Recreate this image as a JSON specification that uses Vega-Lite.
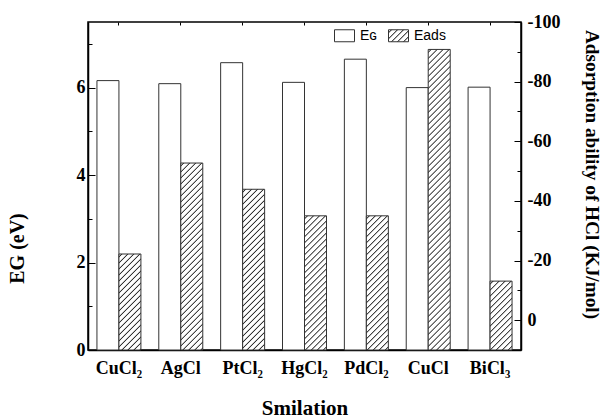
{
  "$schema": "https://vega.github.io/schema/vega-lite/v6.json",
  "width": 433,
  "height": 328,
  "autosize": {"type": "none"},
  "padding": {"left": 88, "top": 22, "right": 88, "bottom": 69},
  "background": "#ffffff",
  "params": [
    {
      "name": "hatch",
      "value": [
        {"offset":0,"color":"#fff"},
        {"offset":0.0045,"color":"#fff"},{"offset":0.0075,"color":"#222"},{"offset":0.0105,"color":"#fff"},
        {"offset":0.0195,"color":"#fff"},{"offset":0.0225,"color":"#222"},{"offset":0.0255,"color":"#fff"},
        {"offset":0.0345,"color":"#fff"},{"offset":0.0375,"color":"#222"},{"offset":0.0405,"color":"#fff"},
        {"offset":0.0495,"color":"#fff"},{"offset":0.0525,"color":"#222"},{"offset":0.0555,"color":"#fff"},
        {"offset":0.0645,"color":"#fff"},{"offset":0.0675,"color":"#222"},{"offset":0.0705,"color":"#fff"},
        {"offset":0.0795,"color":"#fff"},{"offset":0.0825,"color":"#222"},{"offset":0.0855,"color":"#fff"},
        {"offset":0.0945,"color":"#fff"},{"offset":0.0975,"color":"#222"},{"offset":0.1005,"color":"#fff"},
        {"offset":0.1095,"color":"#fff"},{"offset":0.1125,"color":"#222"},{"offset":0.1155,"color":"#fff"},
        {"offset":0.1245,"color":"#fff"},{"offset":0.1275,"color":"#222"},{"offset":0.1305,"color":"#fff"},
        {"offset":0.1395,"color":"#fff"},{"offset":0.1425,"color":"#222"},{"offset":0.1455,"color":"#fff"},
        {"offset":0.1545,"color":"#fff"},{"offset":0.1575,"color":"#222"},{"offset":0.1605,"color":"#fff"},
        {"offset":0.1695,"color":"#fff"},{"offset":0.1725,"color":"#222"},{"offset":0.1755,"color":"#fff"},
        {"offset":0.1845,"color":"#fff"},{"offset":0.1875,"color":"#222"},{"offset":0.1905,"color":"#fff"},
        {"offset":0.1995,"color":"#fff"},{"offset":0.2025,"color":"#222"},{"offset":0.2055,"color":"#fff"},
        {"offset":0.2145,"color":"#fff"},{"offset":0.2175,"color":"#222"},{"offset":0.2205,"color":"#fff"},
        {"offset":0.2295,"color":"#fff"},{"offset":0.2325,"color":"#222"},{"offset":0.2355,"color":"#fff"},
        {"offset":0.2445,"color":"#fff"},{"offset":0.2475,"color":"#222"},{"offset":0.2505,"color":"#fff"},
        {"offset":0.2595,"color":"#fff"},{"offset":0.2625,"color":"#222"},{"offset":0.2655,"color":"#fff"},
        {"offset":0.2745,"color":"#fff"},{"offset":0.2775,"color":"#222"},{"offset":0.2805,"color":"#fff"},
        {"offset":0.2895,"color":"#fff"},{"offset":0.2925,"color":"#222"},{"offset":0.2955,"color":"#fff"},
        {"offset":0.3045,"color":"#fff"},{"offset":0.3075,"color":"#222"},{"offset":0.3105,"color":"#fff"},
        {"offset":0.3195,"color":"#fff"},{"offset":0.3225,"color":"#222"},{"offset":0.3255,"color":"#fff"},
        {"offset":0.3345,"color":"#fff"},{"offset":0.3375,"color":"#222"},{"offset":0.3405,"color":"#fff"},
        {"offset":0.3495,"color":"#fff"},{"offset":0.3525,"color":"#222"},{"offset":0.3555,"color":"#fff"},
        {"offset":0.3645,"color":"#fff"},{"offset":0.3675,"color":"#222"},{"offset":0.3705,"color":"#fff"},
        {"offset":0.3795,"color":"#fff"},{"offset":0.3825,"color":"#222"},{"offset":0.3855,"color":"#fff"},
        {"offset":0.3945,"color":"#fff"},{"offset":0.3975,"color":"#222"},{"offset":0.4005,"color":"#fff"},
        {"offset":0.4095,"color":"#fff"},{"offset":0.4125,"color":"#222"},{"offset":0.4155,"color":"#fff"},
        {"offset":0.4245,"color":"#fff"},{"offset":0.4275,"color":"#222"},{"offset":0.4305,"color":"#fff"},
        {"offset":0.4395,"color":"#fff"},{"offset":0.4425,"color":"#222"},{"offset":0.4455,"color":"#fff"},
        {"offset":0.4545,"color":"#fff"},{"offset":0.4575,"color":"#222"},{"offset":0.4605,"color":"#fff"},
        {"offset":0.4695,"color":"#fff"},{"offset":0.4725,"color":"#222"},{"offset":0.4755,"color":"#fff"},
        {"offset":0.4845,"color":"#fff"},{"offset":0.4875,"color":"#222"},{"offset":0.4905,"color":"#fff"},
        {"offset":0.4995,"color":"#fff"},{"offset":0.5025,"color":"#222"},{"offset":0.5055,"color":"#fff"},
        {"offset":0.5145,"color":"#fff"},{"offset":0.5175,"color":"#222"},{"offset":0.5205,"color":"#fff"},
        {"offset":0.5295,"color":"#fff"},{"offset":0.5325,"color":"#222"},{"offset":0.5355,"color":"#fff"},
        {"offset":0.5445,"color":"#fff"},{"offset":0.5475,"color":"#222"},{"offset":0.5505,"color":"#fff"},
        {"offset":0.5595,"color":"#fff"},{"offset":0.5625,"color":"#222"},{"offset":0.5655,"color":"#fff"},
        {"offset":0.5745,"color":"#fff"},{"offset":0.5775,"color":"#222"},{"offset":0.5805,"color":"#fff"},
        {"offset":0.5895,"color":"#fff"},{"offset":0.5925,"color":"#222"},{"offset":0.5955,"color":"#fff"},
        {"offset":0.6045,"color":"#fff"},{"offset":0.6075,"color":"#222"},{"offset":0.6105,"color":"#fff"},
        {"offset":0.6195,"color":"#fff"},{"offset":0.6225,"color":"#222"},{"offset":0.6255,"color":"#fff"},
        {"offset":0.6345,"color":"#fff"},{"offset":0.6375,"color":"#222"},{"offset":0.6405,"color":"#fff"},
        {"offset":0.6495,"color":"#fff"},{"offset":0.6525,"color":"#222"},{"offset":0.6555,"color":"#fff"},
        {"offset":0.6645,"color":"#fff"},{"offset":0.6675,"color":"#222"},{"offset":0.6705,"color":"#fff"},
        {"offset":0.6795,"color":"#fff"},{"offset":0.6825,"color":"#222"},{"offset":0.6855,"color":"#fff"},
        {"offset":0.6945,"color":"#fff"},{"offset":0.6975,"color":"#222"},{"offset":0.7005,"color":"#fff"},
        {"offset":0.7095,"color":"#fff"},{"offset":0.7125,"color":"#222"},{"offset":0.7155,"color":"#fff"},
        {"offset":0.7245,"color":"#fff"},{"offset":0.7275,"color":"#222"},{"offset":0.7305,"color":"#fff"},
        {"offset":0.7395,"color":"#fff"},{"offset":0.7425,"color":"#222"},{"offset":0.7455,"color":"#fff"},
        {"offset":0.7545,"color":"#fff"},{"offset":0.7575,"color":"#222"},{"offset":0.7605,"color":"#fff"},
        {"offset":0.7695,"color":"#fff"},{"offset":0.7725,"color":"#222"},{"offset":0.7755,"color":"#fff"},
        {"offset":0.7845,"color":"#fff"},{"offset":0.7875,"color":"#222"},{"offset":0.7905,"color":"#fff"},
        {"offset":0.7995,"color":"#fff"},{"offset":0.8025,"color":"#222"},{"offset":0.8055,"color":"#fff"},
        {"offset":0.8145,"color":"#fff"},{"offset":0.8175,"color":"#222"},{"offset":0.8205,"color":"#fff"}
      ]
    }
  ],
  "data": {
    "values": [
      {"compound": "CuCl₂", "series": "EG", "value": 6.16},
      {"compound": "AgCl", "series": "EG", "value": 6.09},
      {"compound": "PtCl₂", "series": "EG", "value": 6.57},
      {"compound": "HgCl₂", "series": "EG", "value": 6.12},
      {"compound": "PdCl₂", "series": "EG", "value": 6.65},
      {"compound": "CuCl", "series": "EG", "value": 6.0},
      {"compound": "BiCl₃", "series": "EG", "value": 6.01},
      {"compound": "CuCl₂", "series": "Eads", "value": -22.2},
      {"compound": "AgCl", "series": "Eads", "value": -52.7},
      {"compound": "PtCl₂", "series": "Eads", "value": -43.9},
      {"compound": "HgCl₂", "series": "Eads", "value": -35.0},
      {"compound": "PdCl₂", "series": "Eads", "value": -35.0},
      {"compound": "CuCl", "series": "Eads", "value": -90.8},
      {"compound": "BiCl₃", "series": "Eads", "value": -13.1}
    ]
  },
  "encoding": {
    "xOffset": {
      "field": "series",
      "type": "nominal",
      "scale": {"domain": ["EG", "Eads"], "paddingInner": 0, "paddingOuter": 0}
    }
  },
  "layer": [
    {
      "transform": [{"filter": "datum.series === 'EG'"}],
      "mark": {"type": "bar", "stroke": "#333333", "strokeWidth": 1},
      "encoding": {
        "x": {
          "field": "compound",
          "type": "nominal",
          "sort": null,
          "scale": {"paddingInner": 0.289, "paddingOuter": 0.1445},
          "axis": {
            "orient": "bottom",
            "ticks": false,
            "labelAngle": 0,
            "labelPadding": 9,
            "labelFont": "Liberation Serif",
            "labelFontSize": 18,
            "labelFontWeight": "bold",
            "labelColor": "#000000",
            "domainColor": "#000000",
            "domainWidth": 1.5,
            "title": "Smilation",
            "titleFont": "Liberation Serif",
            "titleFontSize": 21,
            "titleFontWeight": "bold",
            "titleColor": "#000000",
            "titlePadding": 20
          }
        },
        "y": {
          "field": "value",
          "type": "quantitative",
          "stack": null,
          "scale": {"domain": [0, 7.5], "nice": false, "zero": false},
          "axis": {
            "orient": "left",
            "values": [0, 1, 2, 3, 4, 5, 6, 7],
            "labelExpr": "datum.value % 2 === 0 ? datum.label : ''",
            "labelOverlap": false,
            "grid": false,
            "tickSize": {"expr": "datum.value % 2 === 0 ? -7 : -4"},
            "tickColor": "#000000",
            "tickWidth": 1,
            "labelPadding": 10,
            "labelFont": "Liberation Serif",
            "labelFontSize": 18,
            "labelFontWeight": "bold",
            "labelColor": "#000000",
            "domainColor": "#000000",
            "domainWidth": 1.5,
            "title": "EG (eV)",
            "titleFont": "Liberation Serif",
            "titleFontSize": 20,
            "titleFontWeight": "bold",
            "titleColor": "#000000",
            "titlePadding": 49,
            "titleY": 226
          }
        },
        "fill": {
          "field": "series",
          "type": "nominal",
          "scale": {
            "domain": ["EG", "Eads"],
            "range": ["#ffffff", {"expr": "{gradient: 'linear', x1: 0, y1: 0, x2: 14.706, y2: 8.824, stops: hatch}"}]
          },
          "legend": {
            "orient": "none",
            "legendX": 246,
            "legendY": 3,
            "direction": "horizontal",
            "title": null,
            "symbolType": "M-1,-0.6H1V0.6H-1Z",
            "symbolSize": 400,
            "symbolOpacity": 1,
            "symbolStrokeColor": "#333333",
            "symbolStrokeWidth": 1,
            "labelFont": "Liberation Sans",
            "labelFontSize": 14,
            "labelFontWeight": "normal",
            "labelColor": "#000000",
            "labelOffset": 5,
            "columnPadding": 8,
            "labelExpr": "datum.value === 'EG' ? 'Eɢ' : datum.label"
          }
        }
      }
    },
    {
      "transform": [{"filter": "datum.series === 'Eads'"}],
      "mark": {"type": "bar", "stroke": "#333333", "strokeWidth": 1},
      "encoding": {
        "x": {
          "field": "compound",
          "type": "nominal",
          "sort": null,
          "scale": {"paddingInner": 0.289, "paddingOuter": 0.1445},
          "axis": {
            "orient": "top",
            "labels": false,
            "domain": false,
            "title": null,
            "tickSize": -3,
            "tickColor": "#000000",
            "tickWidth": 1
          }
        },
        "y": {
          "field": "value",
          "type": "quantitative",
          "scale": {"domain": [10, -100], "nice": false, "zero": false},
          "axis": {
            "orient": "right",
            "values": [-100, -90, -80, -70, -60, -50, -40, -30, -20, -10, 0],
            "labelExpr": "datum.value % 20 === 0 ? '' + datum.value : ''",
            "labelOverlap": false,
            "grid": false,
            "tickSize": {"expr": "datum.value % 20 === 0 ? -7 : -4"},
            "tickColor": "#000000",
            "tickWidth": 1,
            "labelPadding": 13,
            "labelFont": "Liberation Serif",
            "labelFontSize": 18,
            "labelFontWeight": "bold",
            "labelColor": "#000000",
            "domainColor": "#000000",
            "domainWidth": 1.5,
            "title": "Adsorption ability of HCl (KJ/mol)",
            "titleFont": "Liberation Serif",
            "titleFontSize": 19.3,
            "titleFontWeight": "bold",
            "titleColor": "#000000",
            "titlePadding": 22,
            "titleY": 152
          }
        },
        "y2": {"datum": 10},
        "fill": {
          "value": {"expr": "{gradient: 'linear', x1: 0, y1: 0, x2: 8800 / (484 + pow((10 - datum.value) * 2.9818, 2)), y2: 400 * (10 - datum.value) * 2.9818 / (484 + pow((10 - datum.value) * 2.9818, 2)), stops: hatch}"}
        }
      }
    }
  ],
  "resolve": {
    "scale": {"y": "independent"},
    "axis": {"x": "independent", "y": "independent"}
  },
  "config": {
    "view": {"stroke": "#000000", "strokeWidth": 1.5},
    "font": "Liberation Serif"
  }
}
